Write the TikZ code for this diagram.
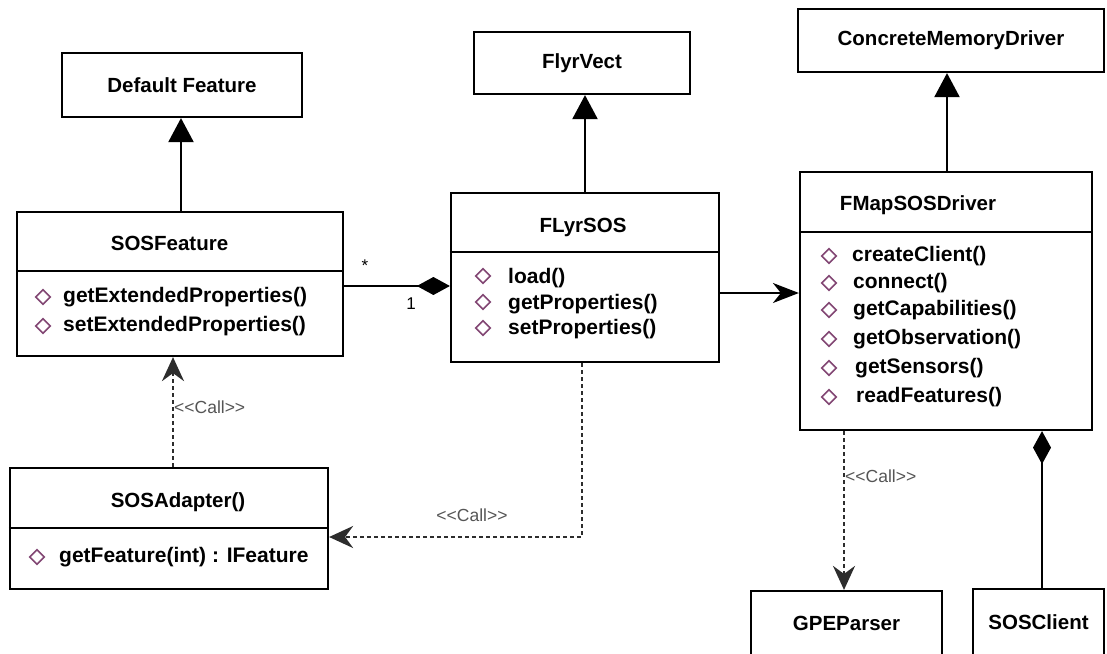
\documentclass[tikz,border=0pt]{standalone}
\usepackage{fontspec}
\setmainfont{Liberation Sans}
\usetikzlibrary{arrows.meta,shapes.geometric}
\definecolor{iconc}{RGB}{130,70,115}
\definecolor{dashc}{RGB}{45,45,45}
\definecolor{callc}{RGB}{85,85,85}
\begin{document}
\begin{tikzpicture}[x=1pt,y=-1pt,
  box/.style={draw=black,line width=2.2pt,fill=white,inner sep=0pt,
    font=\fontsize{20.5}{24}\selectfont\bfseries},
  divider/.style={draw=black,line width=2.2pt},
  title/.style={inner sep=0pt,font=\fontsize{20.5}{24}\selectfont\bfseries},
  meth/.style={inner sep=0pt,anchor=west,text height=15pt,text depth=4pt,
    font=\fontsize{21}{24}\selectfont\bfseries},
  ico/.style={diamond,draw=iconc,line width=1.6pt,fill=white,inner sep=0pt,
    minimum width=15pt,minimum height=15pt},
  inh/.style={line width=2.2pt,-{Triangle[width=25pt,length=24pt]}},
  comp/.style={line width=2.2pt,-{Diamond[length=33pt,width=18pt]}},
  assoc/.style={line width=2.2pt,-{Stealth[length=26pt,width=20pt,inset=8pt]}},
  call/.style={draw=dashc,line width=2.4pt,dash pattern=on 4pt off 3pt,
    -{Stealth[length=24pt,width=22pt,inset=8pt,fill=dashc]}},
  calllabel/.style={inner sep=0pt,text=callc,font=\fontsize{17.5}{20}\selectfont},
  mult/.style={inner sep=0pt,font=\fontsize{17}{20}\selectfont}
]
\useasboundingbox (0,0) rectangle (1107,653);

% simple boxes
\node[box,minimum width=240pt,minimum height=64pt] (df) at (182,85) {Default Feature};
\node[box,minimum width=216pt,minimum height=62pt] (fv) at (582,63) {FlyrVect};
\node[box,minimum width=306pt,minimum height=63pt] (cmd) at (951,40.5) {ConcreteMemoryDriver};
\node[box,minimum width=191pt,minimum height=65pt] (gpe) at (846.5,623.5) {GPEParser};
\node[box,minimum width=131pt,minimum height=66pt] (sc) at (1038.5,622) {SOSClient};

% SOSFeature
\node[box,minimum width=326pt,minimum height=144pt] (sosf) at (180,284) {};
\draw[divider] (sosf.west |- 0,271) -- (sosf.east |- 0,271);
\node[title] (sosfT) at (169.5,243) {SOSFeature};
\node[ico] (sosfI1) at (43,297) {};
\node[meth] (sosfM1) at (63,297) {getExtendedProperties()};
\node[ico] (sosfI2) at (43,326) {};
\node[meth] (sosfM2) at (63,326) {setExtendedProperties()};

% FLyrSOS
\node[box,minimum width=268pt,minimum height=169pt] (fl) at (585,277.5) {};
\draw[divider] (fl.west |- 0,252) -- (fl.east |- 0,252);
\node[title] (flT) at (583,227) {FLyrSOS};
\node[ico] (flI1) at (483,276) {};
\node[meth] (flM1) at (508,278) {load()};
\node[ico] (flI2) at (483,302) {};
\node[meth] (flM2) at (508,304) {getProperties()};
\node[ico] (flI3) at (483,328) {};
\node[meth] (flM3) at (508,329) {setProperties()};

% FMapSOSDriver
\node[box,minimum width=292pt,minimum height=258pt] (fm) at (946,301) {};
\draw[divider] (fm.west |- 0,232) -- (fm.east |- 0,232);
\node[title] (fmT) at (918,205) {FMapSOSDriver};
\node[ico] (fmI1) at (829,256) {};
\node[meth] (fmM1) at (852,256) {createClient()};
\node[ico] (fmI2) at (829,283) {};
\node[meth] (fmM2) at (853,283) {connect()};
\node[ico] (fmI3) at (829,310) {};
\node[meth] (fmM3) at (853,310) {getCapabilities()};
\node[ico] (fmI4) at (829,339) {};
\node[meth] (fmM4) at (853,339) {getObservation()};
\node[ico] (fmI5) at (829,368) {};
\node[meth] (fmM5) at (855,368) {getSensors()};
\node[ico] (fmI6) at (829,397) {};
\node[meth] (fmM6) at (856,397) {readFeatures()};

% SOSAdapter
\node[box,minimum width=318pt,minimum height=121pt] (sa) at (169,528.5) {};
\draw[divider] (sa.west |- 0,528) -- (sa.east |- 0,528);
\node[title] (saT) at (178,502) {SOSAdapter()};
\node[ico] (saI1) at (37,557) {};
\node[meth] (saM1) at (59,557) {getFeature(int) : IFeature};

% generalisations
\draw[inh] ([xshift=1pt]sosf.north) -- ([xshift=-1pt]df.south);
\draw[inh] (fl.north) -- ([xshift=3pt]fv.south);
\draw[inh] ([xshift=1pt]fm.north) -- ([xshift=-4pt]cmd.south);

% compositions
\draw[comp] ([yshift=-2pt]sosf.east) -- ([yshift=-8.5pt]fl.west);
\node[mult] (mstar) at (365,266) {*};
\node[mult] (mone) at (411,304) {1};
\draw[comp] ([xshift=3.5pt]sc.north) -- ([xshift=96pt]fm.south);

% association
\draw[assoc] ([yshift=-15.5pt]fl.east) -- ([yshift=8pt]fm.west);

% calls
\draw[call] ([xshift=-3pt]fl.south) |- ([yshift=-8.5pt]sa.east);
\node[calllabel] (cl1) at (472,515) {{<}{<}Call{>}{>}};
\draw[call] ([xshift=4pt]sa.north) -- ([xshift=-7pt]sosf.south);
\node[calllabel,anchor=west] (cl2) at (174,407) {{<}{<}Call{>}{>}};
\draw[call] ([xshift=-102pt]fm.south) -- ([xshift=-2.5pt]gpe.north);
\node[calllabel,anchor=west] (cl3) at (845,476) {{<}{<}Call{>}{>}};
\end{tikzpicture}
\end{document}
